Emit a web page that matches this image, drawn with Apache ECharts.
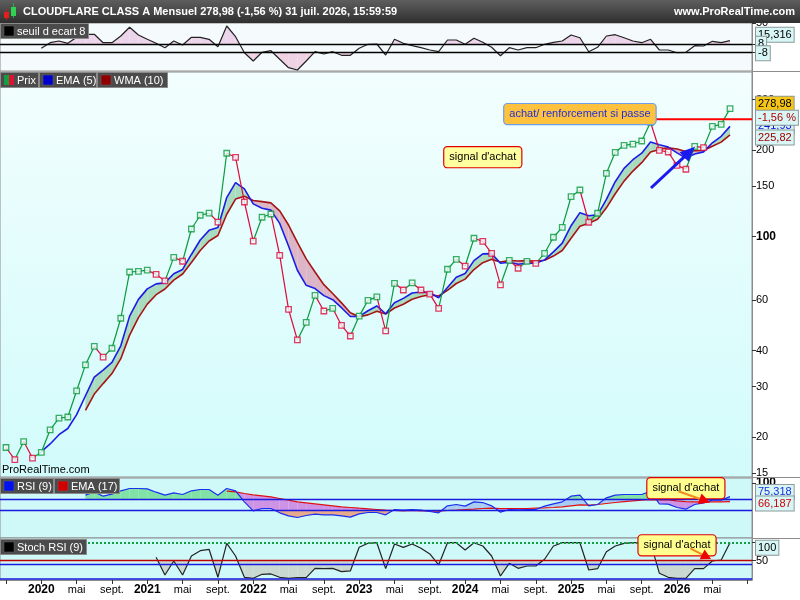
<!DOCTYPE html>
<html><head><meta charset="utf-8"><title>CLOUDFLARE CLASS A Mensuel</title>
<script src="https://cdn.jsdelivr.net/npm/echarts@6.0.0/dist/echarts.min.js"></script>
<style>html,body{margin:0;padding:0;background:#fff;overflow:hidden}#chart{width:800px;height:600px}</style>
</head><body><div id="chart"></div>
<script>
// ---------- DATA (monthly, Sept 2019 .. Jul 2026, index 0..82) ----------
const tickIndex  = [0,4,8,12,16,20,24,28,32,36,40,44,48,52,56,60,64,68,72,76,80,84];
const tickLabels = ['sept.','2020','mai','sept.','2021','mai','sept.','2022','mai','sept.','2023','mai','sept.','2024','mai','sept.','2025','mai','sept.','2026','mai','sept.'];
const priceTicks = [15,20,30,40,60,100,150,200,300];

const closes = [18.4,16.7,19.3,16.9,
 17.7,21.2,23.3,23.5,29.0,35.7,41.4,38.0,40.8,51.9,75.2,75.6,
 76.3,73.8,70.0,84.6,82.0,106.2,118.6,120.7,112.3,195,188.8,131.9,
 96.4,116.7,119.8,86.0,55.7,43.6,50.2,62.4,55.0,56.2,49.0,45.0,
 52.8,59.9,61.6,46.9,68.7,65.1,68.9,65.1,63.0,56.2,76.9,83.3,
 78.9,98.6,96.2,87.4,67.8,82.6,77.5,81.9,80.6,87.4,99.4,107.6,
 137.6,145.2,112.1,120.5,166.0,196.5,207.9,210,215.2,250,199.7,197,
 177,171.5,206.2,203.9,242,246,278.98];

const ema5 = [null,null,null,null,
 17.8,18.93,20.39,21.43,23.95,27.87,32.38,34.25,36.43,41.59,52.79,60.39,
 65.69,68.39,68.93,74.15,76.77,86.58,97.25,105.07,107.48,136.65,154.03,146.65,
 129.9,125.5,123.6,111.07,92.61,76.27,67.58,65.85,62.23,60.22,56.48,52.65,
 52.7,55.1,57.27,53.81,58.77,60.88,63.55,64.07,63.71,61.21,66.44,72.06,
 74.34,82.43,87.02,87.15,80.7,81.33,80.05,80.67,80.65,82.9,88.4,94.8,
 109.07,121.11,118.11,118.91,134.61,155.24,172.79,185.19,195.19,213.46,208.87,204.91,
 195.61,187.57,193.78,197.15,212.1,223.4,241.93];

const wma10 = [null,null,null,null,null,null,null,null,null,
 24.77,28.26,30.72,33.30,37.51,45.32,52.16,
 58.13,62.69,65.64,70.5,74.0,81.16,89.33,96.47,100.84,119.56,134.99,138.03,
 133.55,132.29,131.01,122.89,109.63,95.32,83.6,75.24,67.94,63.29,58.71,54.26,
 52.53,53.32,54.89,53.67,56.36,58.06,60.41,61.8,62.66,62.02,64.95,68.59,
 71.02,76.71,81.02,83.24,81.48,82.44,82.15,82.4,81.94,82.65,85.47,89.41,
 98.64,108.5,111.29,114.8,125.89,140.93,155.95,169.03,180.84,196.86,201.15,203.82,
 201.92,197.83,199.12,199.27,206.21,213.25,225.82];

const seuil = [null,null,null,null,
 0,11.2,14.6,10,22,28,28,11.2,11.2,24.6,42,26.6,
 18,10,1.2,14.6,6.6,22,22,18,3.2,44.6,23.2,-8.8,
 -25.4,-8,-4.8,-22,-38.8,-43.4,-25.4,-6.8,-11.4,-6.8,-14,-14,
 0,8,8.6,-13.4,18,10,5.2,1.2,-3.4,-6.8,16.6,16.6,
 8,20,12,2,-14.8,1.2,-3.4,1.2,1.2,8,12,14.6,
 26.6,21.2,-6.8,2,24.6,27.2,21.2,14.6,11.2,18,-3.4,-3.4,
 -8.8,-8,5.2,4.6,14,11.2,15.316];

const rsi9 = [null,null,null,null,null,null,null,null,null,
 77.9,83.9,76,79.7,85.8,90,90,
 89.4,83.3,77.9,82.1,79.1,85.8,88.2,88.2,77.9,90,85.8,65.7,
 49.4,53.6,53.6,45.8,40.3,37.3,40.9,43.3,42.1,42.1,40.3,37.9,
 43.9,46.4,46.4,42.1,51.8,50.6,51.8,50.6,48.2,45.8,58.5,60.9,
 57.9,65.7,64.5,58.5,47,51.8,51.2,51.8,51.8,57.9,62.1,65.7,
 76,77.9,58.5,60.9,73,77.9,79.1,79.1,79.1,85.1,62.1,61.5,
 55.5,52.4,60.9,63.9,68.8,68.8,75.318];

const rsiEma17 = [null,null,null,null,null,null,null,null,null,null,null,null,null,null,null,null,
 null,null,null,null,null,null,null,null,null,85.2,83.9,80.9,
 78.4,76.6,74.8,71.8,68.8,65.7,63.9,62.1,60.3,58.5,56.7,55.5,
 54.2,53,51.8,50.6,50,49.5,50,49.5,49.5,48.8,50,50.6,
 51.8,52.4,53.6,54.2,53.6,53.6,53.6,53.6,54.2,54.8,55.5,56.7,
 58.5,60.3,59.7,60.9,62.7,64.5,66.3,67.6,68.8,69.9,69.4,69.4,
 67.6,66.3,65.7,65.7,65.7,65.7,66.187];

const stochRsi = [null,null,null,null,null,null,null,null,null,null,null,null,null,null,null,null,
 null,59,9.3,48.6,9.3,62.6,77.5,81.5,2.8,98.3,62.6,2.8,
 0,11.2,12.2,2.8,0,1.9,1.9,28,27.2,28,18.6,20.6,
 87,98.3,100,27.2,96.4,87,96.4,84.3,68.3,37.4,100,100,
 79.5,100,90.7,62.6,6.5,42.1,28,34.6,34.6,53.4,90.7,100,
 100,100,23.3,27,74.7,90.7,98.3,100,100,100,14,2.8,
 0,0,27.2,27.2,48.6,51.4,100];

const resistance = [[73.5,256],[84.49,256]];

// annotations (anchors in data coordinates)
const notes = [
  {grid:1, at:[65.0,267], text:'achat/ renforcement si passe', fill:'#1f2fd8', bg:'#ffc23f', border:'#6f9ee8'},
  {grid:1, at:[54.0,189], text:"signal d'achat", fill:'#000', bg:'#ffffa0', border:'#e00000'},
  {grid:2, at:[77.0,90.6], text:"signal d'achat", fill:'#000', bg:'#ffff90', border:'#e00000'},
  {grid:3, at:[76.0,92.5], text:"signal d'achat", fill:'#000', bg:'#ffff90', border:'#e00000'}
];
const arrows = [
  {grid:1, from:[73.05,147.6], to:[78.04,205.5], line:'#1a1af0', head:'#1a1af0', lw:3, hl:15, hw:13},
  {grid:2, from:[76.15,85.1], to:[79.74,64.6], line:'#f08c1e', head:'#f00000', lw:2, hl:11, hw:11},
  {grid:3, from:[77.5,84.3], to:[79.85,54.2], line:'#f08c1e', head:'#f00000', lw:2, hl:10, hw:11}
];

// ---------- CHART ----------
const FONT = '"Liberation Sans", Arial, sans-serif';
const GREEN = '#0a9a3c', RED = '#dc0a3c';
const XMIN = -0.68, XMAX = 84.49;
const chart = echarts.init(document.getElementById('chart'));

const pairs = arr => arr.map((v,i)=>[i,v]).filter(d=>d[1]!=null);

function band(g, A, B, colPos, colNeg, z){
  const data = [];
  for (let i=1;i<A.length;i++){
    const b0 = typeof B==='number'?B:B[i-1], b1 = typeof B==='number'?B:B[i];
    if (A[i-1]!=null && A[i]!=null && b0!=null && b1!=null) data.push([i, A[i-1], A[i], b0, b1]);
  }
  return {type:'custom', xAxisIndex:g, yAxisIndex:g, silent:true, z:z, animation:false, data:data,
    encode:{x:0, y:1},
    renderItem(params, api){
      const i = api.value(0);
      const a0 = api.coord([i-1, api.value(1)]), a1 = api.coord([i, api.value(2)]);
      const b0 = api.coord([i-1, api.value(3)]), b1 = api.coord([i, api.value(4)]);
      const d0 = b0[1]-a0[1], d1 = b1[1]-a1[1];
      const ch = [];
      const poly = (pts,c)=>{ if(c) ch.push({type:'polygon', shape:{points:pts}, style:{fill:c}}); };
      if ((d0>=0 && d1>=0) || (d0<=0 && d1<=0)) {
        poly([a0,a1,b1,b0], (d0+d1)>0 ? colPos : colNeg);
      } else {
        const t = d0/(d0-d1);
        const m = [a0[0]+(a1[0]-a0[0])*t, a0[1]+(a1[1]-a0[1])*t];
        poly([a0,m,b0], d0>0?colPos:colNeg);
        poly([m,a1,b1], d1>0?colPos:colNeg);
      }
      return {type:'group', children:ch};
    }};
}
function hl(levels){
  return {silent:true, symbol:['none','none'], animation:false, label:{show:false},
    data: levels.map(l=>({yAxis:l[0], lineStyle:{color:l[1], width:l[2], type:l[3]}}))};
}
function lineS(g, arr, color, width, z, extra){
  return Object.assign({type:'line', xAxisIndex:g, yAxisIndex:g, data:pairs(arr), symbol:'none', showSymbol:false,
    lineStyle:{color:color, width:width}, z:z, animation:false, silent:true}, extra||{});
}
const gridBase = {left:0, width:752, show:true, borderColor:'#8c8c8c', borderWidth:1};
const axisLineStyle = {show:true, onZero:false, lineStyle:{color:'#8c8c8c'}};
const tickStyle = {lineStyle:{color:'#333'}, length:4};
const labelBase = {color:'#000', fontSize:11, fontFamily:FONT, margin:4};

const option = {
  animation:false,
  textStyle:{fontFamily:FONT},
  grid:[
    Object.assign({}, gridBase, {top:23, height:48, backgroundColor:'#f5fbfc'}),
    Object.assign({}, gridBase, {top:72, height:405, backgroundColor:new echarts.graphic.LinearGradient(0,0,0,1,[{offset:0,color:'#f3fefe'},{offset:1,color:'#d2fbfb'}])}),
    Object.assign({}, gridBase, {top:478, height:60, backgroundColor:'#cff9f9'}),
    Object.assign({}, gridBase, {top:538, height:42, backgroundColor:'#cff9f9'})
  ],
  xAxis:[0,1,2,3].map(g=>({type:'value', gridIndex:g, min:XMIN, max:XMAX, show:g===3, position:'bottom',
    splitLine:{show:false},
    axisLine:axisLineStyle,
    axisTick:Object.assign({show:true, customValues:tickIndex}, tickStyle),
    axisLabel:{customValues:tickIndex.slice(1,-1), margin:4, color:'#000',
      formatter:v=>{ const k = tickIndex.indexOf(Math.round(v)); const t = tickLabels[k]||'';
        return /^\d{4}$/.test(t) ? '{y|'+t+'}' : '{m|'+t+'}'; },
      rich:{y:{fontWeight:'bold', fontSize:12, fontFamily:FONT, color:'#000'}, m:{fontSize:11, fontFamily:FONT, color:'#000'}}}
  })),
  yAxis:[
    {type:'value', gridIndex:0, position:'right', min:-45.4, max:50.6, splitLine:{show:false}, axisLine:axisLineStyle,
     axisTick:Object.assign({show:true, customValues:[50,8,-8]}, tickStyle), axisLabel:Object.assign({customValues:[50]}, labelBase)},
    {type:'log', logBase:10, gridIndex:1, position:'right', min:14.52, max:374.3, splitLine:{show:false}, axisLine:axisLineStyle,
     axisTick:Object.assign({show:true, customValues:priceTicks}, tickStyle),
     axisLabel:Object.assign({customValues:priceTicks, formatter:v=>{const r=Math.round(v); return r===100?'{b|100}':String(r);},
       rich:{b:{fontWeight:'bold', fontSize:12, fontFamily:FONT, color:'#000'}}}, labelBase)},
    {type:'value', gridIndex:2, position:'right', min:0, max:109.1, splitLine:{show:false}, axisLine:axisLineStyle,
     axisTick:Object.assign({show:true, customValues:[100]}, tickStyle),
     axisLabel:Object.assign({customValues:[100], formatter:()=>'{b|100}', rich:{b:{fontWeight:'bold', fontSize:12, fontFamily:FONT, color:'#000'}}}, labelBase)},
    {type:'value', gridIndex:3, position:'right', min:-4.8, max:113.2, splitLine:{show:false}, axisLine:axisLineStyle,
     axisTick:Object.assign({show:true, customValues:[100,50]}, tickStyle), axisLabel:Object.assign({customValues:[50]}, labelBase)}
  ],
  series:[
    // top oscillator
    band(0, seuil, 8, '#ecd4ea', null, 1),
    band(0, seuil, -8, null, '#efd3e4', 1),
    lineS(0, seuil, '#222', 1.2, 3, {markLine:hl([[8,'#000',1.4,'solid'],[-8,'#000',1.4,'solid']])}),
    // price panel
    band(1, ema5, wma10, '#a9dcbf', '#dcb5c6', 1),
    lineS(1, wma10, '#a51515', 1.6, 3),
    lineS(1, ema5, '#1c1ce6', 1.6, 3),
    {type:'custom', xAxisIndex:1, yAxisIndex:1, silent:true, z:4, animation:false,
     data: closes.slice(1).map((v,k)=>[k+1, closes[k], v]), encode:{x:0, y:2},
     renderItem(params, api){
       const i = api.value(0);
       const p0 = api.coord([i-1, api.value(1)]), p1 = api.coord([i, api.value(2)]);
       return {type:'line', shape:{x1:p0[0],y1:p0[1],x2:p1[0],y2:p1[1]},
         style:{stroke: api.value(2)>=api.value(1)?GREEN:RED, lineWidth:1.2}};
     }},
    {type:'scatter', xAxisIndex:1, yAxisIndex:1, z:5, silent:true, animation:false, symbol:'rect', symbolSize:5.5,
     data: closes.map((v,i)=>({value:[i,v], itemStyle:{borderColor:(i===0||v>=closes[i-1])?GREEN:RED}})),
     itemStyle:{color:'#effdfd', borderWidth:1.3}},
    {type:'line', xAxisIndex:1, yAxisIndex:1, data:resistance, symbol:'none', lineStyle:{color:'#ff0000', width:2}, z:6, silent:true},
    // RSI panel
    band(2, rsi9, rsiEma17, '#a9cdf2', '#cf93e6', 1),
    band(2, rsi9, 70, '#80e3a5', null, 2),
    band(2, rsi9, 50, null, '#e7aa8b', 2),
    lineS(2, rsi9, '#1a2ff0', 1.2, 4, {markLine:hl([[70,'#1a1ae0',1.4,'solid'],[50,'#1a1ae0',1.4,'solid']])}),
    lineS(2, rsiEma17, '#e01010', 1.2, 3),
    // Stoch RSI panel
    band(3, stochRsi, 50, null, '#c9d9d2', 1),
    lineS(3, stochRsi, '#222', 1.2, 4, {markLine:hl([[100,'#10a040',2,'dotted'],[50,'#c00000',1.3,'solid'],[40,'#1a1ae0',1.3,'solid'],[0,'#1a1ae0',1.5,'solid']])})
  ]
};
chart.setOption(option);

// ---------- graphics (title bar, legends, value boxes, annotations) ----------
const px = (g, p) => chart.convertToPixel({gridIndex:g}, p);
const G = [];
G.push({type:'rect', shape:{x:0,y:0,width:800,height:23}, z:100,
  style:{fill:new echarts.graphic.LinearGradient(0,0,0,1,[{offset:0,color:'#5e5e5e'},{offset:1,color:'#2f2f2f'}])}});
// candle icon
G.push({type:'line', shape:{x1:6.5,y1:9,x2:6.5,y2:20}, style:{stroke:'#d01818', lineWidth:1}, z:101});
G.push({type:'rect', shape:{x:4,y:12,width:5,height:6}, style:{fill:'#e02020'}, z:102});
G.push({type:'line', shape:{x1:13.5,y1:3,x2:13.5,y2:18}, style:{stroke:'#20b040', lineWidth:1}, z:101});
G.push({type:'rect', shape:{x:11,y:7,width:5,height:9}, style:{fill:'#30d050'}, z:102});
G.push({type:'text', x:23, y:12, z:103, style:{text:'CLOUDFLARE CLASS A Mensuel 278,98 (-1,56 %) 31 juil. 2026, 15:59:59', fill:'#fff', font:'bold 11px '+FONT, verticalAlign:'middle'}});
G.push({type:'text', x:795, y:12, z:103, style:{text:'www.ProRealTime.com', fill:'#fff', font:'bold 11px '+FONT, align:'right', verticalAlign:'middle'}});

function panelLabel(x, y, w, text, icon){
  const h = 15;
  G.push({type:'rect', shape:{x:x+0.5,y:y+0.5,width:w,height:h}, style:{fill:'#4b4b4b', stroke:'#8a8a8a', lineWidth:1}, z:100});
  if (Array.isArray(icon)) {
    G.push({type:'rect', shape:{x:x+4,y:y+3,width:5,height:10}, style:{fill:icon[0]}, z:101});
    G.push({type:'rect', shape:{x:x+9,y:y+3,width:5,height:10}, style:{fill:icon[1]}, z:101});
  } else {
    G.push({type:'rect', shape:{x:x+4,y:y+3,width:10,height:10}, style:{fill:icon, stroke:'#666', lineWidth:0.5}, z:101});
  }
  G.push({type:'text', x:x+17, y:y+h/2+1, z:102, style:{text:text, fill:'#fff', font:'11px '+FONT, verticalAlign:'middle'}});
}
panelLabel(0, 23, 88, 'seuil d ecart 8', '#000');
panelLabel(0, 72, 38, 'Prix', ['#10a040','#e01030']);
panelLabel(39, 72, 57, 'EMA (5)', '#0000d0');
panelLabel(97, 72, 70, 'WMA (10)', '#900000');
panelLabel(0, 478, 53, 'RSI (9)', '#0010f0');
panelLabel(54, 478, 65, 'EMA (17)', '#d00000');
panelLabel(0, 539, 86, 'Stoch RSI (9)', '#000');

// separators in the axis column
[71.5, 477.5, 538.5].forEach(y=>G.push({type:'line', shape:{x1:752,y1:y,x2:800,y2:y}, style:{stroke:'#8c8c8c', lineWidth:1}, z:99}));

// watermark
G.push({type:'text', x:2, y:470, z:100, style:{text:'ProRealTime.com', fill:'#000', font:'11px '+FONT, verticalAlign:'middle'}});

// value boxes on right axis
function vbox(g, val, dy, text, color, bg){
  const p = px(g, [XMAX, val]);
  G.push({type:'text', x:756, y:p[1]+dy, z:110, style:{text:text, fill:color, font:'11px '+FONT, verticalAlign:'middle',
    backgroundColor:bg, borderColor:'#8a9a9a', borderWidth:1, padding:[2,2,1,2]}});
}
vbox(0, 15.316, -6, '15,316', '#000', '#d8f6f6');
vbox(0, 8, -0.5, '8', '#000', '#d8f6f6');
vbox(0, -8, 1, '-8', '#000', '#d8f6f6');
vbox(1, ema5[82], 0, '241,93', '#1010e0', '#d8f6f6');
vbox(1, closes[82], -5, '278,98', '#000', '#f5c518');
vbox(1, closes[82], 9, '-1,56 %', '#b00000', '#d8f6f6');
vbox(1, wma10[82], 2.5, '225,82', '#a00000', '#d8f6f6');
vbox(2, rsi9[82], -4.5, '75,318', '#1530e0', '#d8f6f6');
vbox(2, rsiEma17[82], 2, '66,187', '#d00000', '#d8f6f6');
vbox(3, stochRsi[82], 5, '100', '#000', '#d8f6f6');

// annotation boxes
notes.forEach(n=>{
  const p = px(n.grid, n.at);
  G.push({type:'text', x:p[0], y:p[1], z:115, style:{text:n.text, fill:n.fill, font:'11px '+FONT, align:'center', verticalAlign:'middle',
    backgroundColor:n.bg, borderColor:n.border, borderWidth:1.2, borderRadius:3, padding:[5,5,4,5]}});
});
// arrows
arrows.forEach(a=>{
  const p0 = px(a.grid, a.from), p1 = px(a.grid, a.to);
  const dx = p1[0]-p0[0], dy = p1[1]-p0[1], L = Math.hypot(dx,dy), ux = dx/L, uy = dy/L;
  const bx = p1[0]-ux*a.hl, by = p1[1]-uy*a.hl;
  G.push({type:'line', shape:{x1:p0[0],y1:p0[1],x2:bx+ux*2,y2:by+uy*2}, style:{stroke:a.line, lineWidth:a.lw}, z:120});
  G.push({type:'polygon', shape:{points:[[p1[0],p1[1]],[bx-uy*a.hw/2, by+ux*a.hw/2],[bx+uy*a.hw/2, by-ux*a.hw/2]]}, style:{fill:a.head}, z:121});
});

chart.setOption({graphic:G});
</script></body></html>
